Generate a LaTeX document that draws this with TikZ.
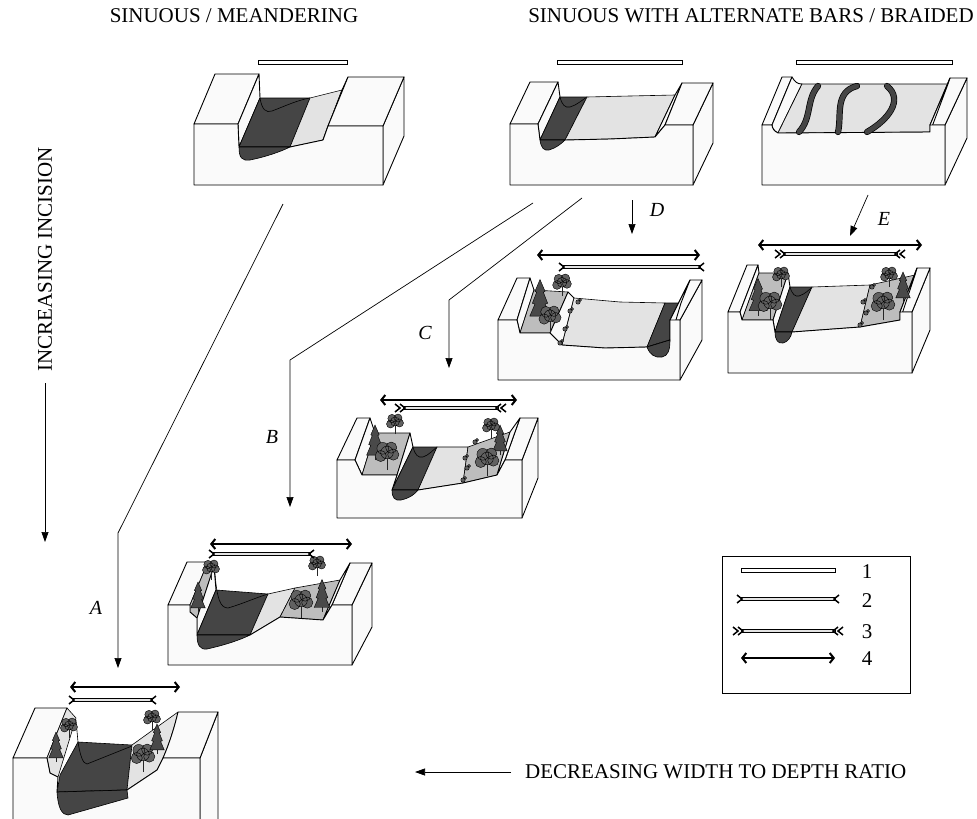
\documentclass[tikz,border=0pt]{standalone}
\usepackage{fontspec}
\setmainfont{Liberation Serif}
\usetikzlibrary{arrows.meta}
\definecolor{facewhite}{gray}{0.98}
\definecolor{plaingray}{gray}{0.89}
\definecolor{terracegray}{gray}{0.74}
\definecolor{waterdark}{gray}{0.27}
\definecolor{treegray}{gray}{0.38}
\tikzset{
  face/.style={draw, fill=facewhite, line width=0.9pt, line join=round},
  plain/.style={draw, fill=plaingray, line width=0.6pt, line join=round},
  terrace/.style={draw, fill=terracegray, line width=0.6pt, line join=round},
  water/.style={draw, fill=waterdark, line width=0.6pt, line join=round},
  braid/.style={line width=4.8pt, draw=waterdark, line cap=round,
    preaction={draw=black, line width=6.2pt, line cap=round}},
  crown/.style={draw=black, fill=treegray, line width=0.4pt},
  trunk/.style={line width=1pt, draw=black!85},
  tailln/.style={line width=1.5pt, line join=miter},
  conn/.style={line width=0.7pt},
  connarrow/.style={conn, -{Triangle[length=10pt,width=7pt]}},
  heading/.style={font=\fontsize{21}{21}\selectfont, inner sep=0pt},
  lbl/.style={font=\fontsize{20}{20}\selectfont\itshape, inner sep=0pt},
  legnum/.style={font=\fontsize{21}{21}\selectfont, inner sep=0pt},
}
% width bars of the legend: #1 = left x, #2 = right x, #3 = y
\newcommand{\barone}[3]{\filldraw[fill=white, line width=0.7pt] (#1,#3-2) rectangle (#2,#3+2);}
\newcommand{\bartwo}[3]{%
  \filldraw[fill=plaingray, line width=0.7pt] (#1,#3-1.8) rectangle (#2,#3+1.8);
  \draw[tailln] (#1-4,#3-4) -- (#1+1,#3) -- (#1-4,#3+4)
                (#2+4,#3-4) -- (#2-1,#3) -- (#2+4,#3+4);}
\newcommand{\barthree}[3]{%
  \filldraw[fill=plaingray, line width=0.7pt] (#1,#3-1.8) rectangle (#2,#3+1.8);
  \draw[tailln] (#1-3,#3-4) -- (#1+2,#3) -- (#1-3,#3+4)
                (#1-8,#3-4) -- (#1-3,#3) -- (#1-8,#3+4)
                (#2+3,#3-4) -- (#2-2,#3) -- (#2+3,#3+4)
                (#2+8,#3-4) -- (#2+3,#3) -- (#2+8,#3+4);}
\newcommand{\barfour}[3]{\draw[line width=2pt,
  {Straight Barb[length=4pt,width=10pt]}-{Straight Barb[length=4pt,width=10pt]}] (#1,#3) -- (#2,#3);}
% vegetation: #1 = x, #2 = base y, #3 = size
\newcommand{\leaftree}[3]{%
  \draw[trunk] (#1,#2) -- (#1,#2-1.1*#3);
  \filldraw[crown] (#1-0.45*#3,#2-1.0*#3) circle ({0.4*#3pt})
                   (#1+0.45*#3,#2-1.1*#3) circle ({0.4*#3pt})
                   (#1-0.3*#3,#2-1.55*#3) circle ({0.42*#3pt})
                   (#1+0.3*#3,#2-1.6*#3) circle ({0.4*#3pt})
                   (#1,#2-1.25*#3) circle ({0.45*#3pt});}
\newcommand{\pinetree}[3]{%
  \draw[trunk] (#1,#2) -- (#1,#2-0.5*#3);
  \filldraw[crown, fill=treegray!75!black] (#1,#2-2.5*#3) -- (#1+0.3*#3,#2-1.8*#3)
     -- (#1+0.2*#3,#2-1.75*#3) -- (#1+0.45*#3,#2-1.1*#3) -- (#1+0.3*#3,#2-1.05*#3)
     -- (#1+0.6*#3,#2-0.35*#3) -- (#1-0.6*#3,#2-0.35*#3) -- (#1-0.3*#3,#2-1.05*#3)
     -- (#1-0.45*#3,#2-1.1*#3) -- (#1-0.2*#3,#2-1.75*#3) -- (#1-0.3*#3,#2-1.8*#3) -- cycle;}
\newcommand{\shrub}[2]{\filldraw[crown] (#1,#2) circle (2.2pt) (#1+2,#2-2) circle (1.6pt);}

\begin{document}
\begin{tikzpicture}[x=1pt,y=-1pt]
  \useasboundingbox (0,0) rectangle (977,819);
  \clip (0,0) rectangle (977,819);

  % headings and axes
  \node[heading] (meander) at (234,16) {SINUOUS / MEANDERING};
  \node[heading] (braided) at (751,16) {SINUOUS WITH ALTERNATE BARS / BRAIDED};
  \node[heading, rotate=90, anchor=west] (incision) at (45,372) {INCREASING INCISION};
  \coordinate (incTop) at (45,383);
  \coordinate (incEnd) at (45,542);
  \draw[connarrow] (incTop) -- (incEnd);
  \node[heading, anchor=west] (ratio) at (525,772) {DECREASING WIDTH TO DEPTH RATIO};
  \coordinate (ratioEnd) at (415,772);
  \draw[connarrow] (ratio.west) ++(-14,0) coordinate (ratioStart) (ratioStart) -- (ratioEnd);

  % ---- top row: meandering block
  \filldraw[face] (383,126) -- (404,77) -- (404,136) -- (383,185) -- cycle;
  \filldraw[face] (194,124) -- (215,74) -- (259,74) -- (238,124) -- cycle;
  \filldraw[face] (259,74) -- (238,124) -- (239,147) -- (260,98) -- cycle;
  \filldraw[water] (260,98) -- (310,98) -- (290,147) -- (239,147) -- cycle;
  \draw[line width=0.6pt] (260,98) .. controls (262,110) and (266,113) .. (272,111)
    .. controls (285,106) and (298,100) .. (310,98);
  \filldraw[plain] (310,98) -- (342,90) -- (323,140) -- (290,147) -- cycle;
  \filldraw[face] (342,90) -- (348,77) -- (328,126) -- (323,140) -- cycle;
  \filldraw[face] (348,77) -- (404,77) -- (383,126) -- (328,126) -- cycle;
  \filldraw[face] (194,124) -- (238,124) -- (239,147) -- (290,147) -- (323,140)
    -- (328,126) -- (383,126) -- (383,185) -- (194,185) -- cycle;
  \filldraw[water] (239,147) .. controls (239,158) and (242,161) .. (250,160)
    .. controls (265,157) and (280,152) .. (290,147) -- cycle;
  \barone{258}{347}{62}

  % ---- top row: alternate bars block
  \filldraw[face] (693,125) -- (713,83) -- (713,143) -- (693,185) -- cycle;
  \filldraw[face] (510,124) -- (530,82) -- (558,82) -- (538,124) -- cycle;
  \filldraw[face] (558,82) -- (538,124) -- (540,140) -- (560,97) -- cycle;
  \filldraw[water] (560,97) -- (587,97) -- (565,140) -- (540,140) -- cycle;
  \draw[line width=0.6pt] (560,97) .. controls (562,105) and (565,108) .. (570,107)
    .. controls (577,105) and (582,100) .. (587,97);
  \filldraw[plain] (587,97) -- (630,96) -- (675,95) -- (655,137) -- (610,139) -- (565,140) -- cycle;
  \filldraw[face] (682,83) -- (675,95) -- (655,137) -- (665,125) -- cycle;
  \filldraw[face] (682,83) -- (713,83) -- (693,125) -- (665,125) -- cycle;
  \filldraw[face] (510,124) -- (538,124) -- (540,140) -- (565,140) -- (610,139) -- (655,137)
    -- (665,125) -- (693,125) -- (693,185) -- (510,185) -- cycle;
  \filldraw[water] (540,140) .. controls (541,148) and (544,151) .. (549,150)
    .. controls (556,148) and (561,144) .. (565,140) -- cycle;
  \barone{557}{682}{62}

  % ---- top row: braided block
  \filldraw[face] (945,125) -- (967,78) -- (967,138) -- (945,185) -- cycle;
  \filldraw[face] (762,125) -- (782,77) -- (792,77) -- (772,125) -- cycle;
  \filldraw[face] (792,77) .. controls (795,82) and (797,84) .. (802,84) -- (778,133)
    .. controls (774,131) and (772,128) .. (772,125) -- cycle;
  \filldraw[plain] (802,84) -- (948,84) -- (930,132) -- (778,133) -- cycle;
  \filldraw[face] (950,78) -- (967,78) -- (945,125) -- (930,125) -- cycle;
  \filldraw[face] (950,78) -- (930,125) -- (930,132) -- (948,84) -- cycle;
  \filldraw[face] (762,125) -- (772,125) .. controls (772,128) and (774,131) .. (778,133)
    -- (930,132) -- (930,125) -- (945,125) -- (945,185) -- (762,185) -- cycle;
  \draw[braid] (818,86) .. controls (806,100) and (812,118) .. (799,132);
  \draw[braid] (857,86) .. controls (834,92) and (842,116) .. (838,132);
  \draw[braid] (887,86) .. controls (904,100) and (888,120) .. (867,132);
  \barone{796}{952}{62}

  % ---- second row: block D
  \filldraw[face] (680,320) -- (702,280) -- (702,340) -- (680,380) -- cycle;
  \filldraw[face] (498,320) -- (517,278) -- (530,278) -- (517,320) -- cycle;
  \filldraw[face] (530,278) -- (517,320) -- (520,333) -- (534,290) -- cycle;
  \filldraw[terrace] (534,290) -- (568,292) -- (550,333) -- (520,333) -- cycle;
  \filldraw[face] (568,292) -- (574,298) -- (562,345) -- (550,333) -- cycle;
  \filldraw[plain] (574,298) -- (620,302) -- (665,303) -- (647,347) -- (605,348) -- (562,345) -- cycle;
  \filldraw[water] (665,303) -- (681,303) -- (670,340) -- (647,347) -- cycle;
  \filldraw[face] (690,280) -- (702,280) -- (680,320) -- (670,320) -- cycle;
  \filldraw[face] (690,280) -- (670,320) -- (670,340) -- (681,303) -- cycle;
  \filldraw[face] (498,320) -- (517,320) -- (520,333) -- (550,333) -- (562,345) -- (605,348)
    -- (647,347) -- (670,340) -- (670,320) -- (680,320) -- (680,380) -- (498,380) -- cycle;
  \filldraw[water] (647,347) .. controls (650,355) and (655,358) .. (662,357)
    .. controls (668,356) and (670,350) .. (670,340) -- cycle;
  \pinetree{540}{322}{17}
  \leaftree{562}{296}{11}
  \leaftree{550}{332}{13}
  \shrub{570}{311} \shrub{578}{302} \shrub{565}{329} \shrub{560}{343}
  \barfour{537}{700}{255}
  \bartwo{563}{700}{267}

  % ---- second row: block E
  \filldraw[face] (912,312) -- (930,268) -- (930,330) -- (912,373) -- cycle;
  \filldraw[face] (728,312) -- (747,265) -- (758,265) -- (740,312) -- cycle;
  \filldraw[face] (758,265) -- (740,312) -- (742,320) -- (759,273) -- cycle;
  \filldraw[terrace] (759,273) -- (788,273) -- (773,320) -- (742,320) -- cycle;
  \filldraw[face] (788,273) -- (790,287) -- (775,332) -- (773,320) -- cycle;
  \filldraw[water] (790,287) -- (812,287) -- (792,332) -- (775,332) -- cycle;
  \draw[line width=0.6pt] (790,287) .. controls (792,294) and (795,297) .. (799,296)
    .. controls (805,294) and (809,290) .. (812,287);
  \filldraw[plain] (812,287) -- (870,285) -- (860,327) -- (792,332) -- cycle;
  \filldraw[terrace] (870,285) -- (915,275) -- (900,320) -- (860,327) -- cycle;
  \filldraw[face] (917,268) -- (930,268) -- (912,312) -- (900,312) -- cycle;
  \filldraw[face] (917,268) -- (900,312) -- (900,320) -- (915,275) -- cycle;
  \filldraw[face] (728,312) -- (740,312) -- (742,320) -- (773,320) -- (775,332) -- (792,332)
    -- (860,327) -- (900,320) -- (900,312) -- (912,312) -- (912,373) -- (728,373) -- cycle;
  \filldraw[water] (775,332) .. controls (775,340) and (778,344) .. (783,343)
    .. controls (788,342) and (791,337) .. (792,332) -- cycle;
  \pinetree{758}{316}{15}
  \leaftree{781}{287}{10}
  \leaftree{770}{320}{14}
  \pinetree{903}{302}{12}
  \leaftree{889}{287}{10}
  \leaftree{883}{320}{14}
  \shrub{872}{287} \shrub{863}{302} \shrub{866}{313} \shrub{860}{325}
  \barfour{758}{922}{245}
  \barthree{783}{897}{254}

  % ---- third row: block C
  \filldraw[face] (522,460) -- (538,418) -- (538,478) -- (522,518) -- cycle;
  \filldraw[face] (337,460) -- (357,418) -- (370,418) -- (355,460) -- cycle;
  \filldraw[face] (370,418) -- (355,460) -- (362,475) -- (375,433) -- cycle;
  \filldraw[terrace] (375,433) -- (410,433) -- (397,475) -- (362,475) -- cycle;
  \filldraw[face] (410,433) -- (413,447) -- (392,490) -- (397,475) -- cycle;
  \filldraw[water] (413,447) -- (437,447) -- (418,490) -- (392,490) -- cycle;
  \draw[line width=0.6pt] (413,447) .. controls (415,455) and (418,458) .. (423,457)
    .. controls (429,455) and (433,450) .. (437,447);
  \filldraw[plain] (437,447) -- (468,447) -- (463,483) -- (418,490) -- cycle;
  \filldraw[terrace] (468,447) -- (510,432) -- (497,475) -- (463,483) -- cycle;
  \filldraw[face] (520,418) -- (538,418) -- (522,460) -- (505,460) -- cycle;
  \filldraw[face] (520,418) -- (505,460) -- (497,475) -- (510,432) -- cycle;
  \filldraw[face] (337,460) -- (355,460) -- (362,475) -- (397,475) -- (392,490) -- (418,490)
    -- (463,483) -- (497,475) -- (505,460) -- (522,460) -- (522,518) -- (337,518) -- cycle;
  \filldraw[water] (392,490) .. controls (392,498) and (395,501) .. (401,500)
    .. controls (410,498) and (415,494) .. (418,490) -- cycle;
  \pinetree{375}{460}{14}
  \leaftree{395}{434}{10}
  \leaftree{387}{470}{14}
  \pinetree{500}{455}{12}
  \leaftree{491}{438}{10}
  \leaftree{487}{476}{14}
  \shrub{475}{442} \shrub{465}{458} \shrub{467}{468} \shrub{463}{480}
  \barfour{380}{517}{400}
  \barthree{403}{498}{408}

  % ---- fourth row: block B
  \filldraw[face] (352,605) -- (372,563) -- (372,627) -- (352,665) -- cycle;
  \filldraw[face] (168,605) -- (187,562) -- (208,562) -- (190,605) -- cycle;
  \filldraw[terrace] (208,562) -- (214,566) -- (197,618) -- (190,612) -- (190,605) -- cycle;
  \filldraw[face] (214,566) -- (197,618) -- (197,635) -- (216,590) -- cycle;
  \filldraw[water] (216,590) -- (268,594) -- (250,635) -- (197,635) -- cycle;
  \draw[line width=0.6pt] (215,574) .. controls (217,598) and (220,608) .. (228,608)
    .. controls (242,604) and (255,598) .. (268,594);
  \filldraw[plain] (268,594) -- (295,588) -- (280,617) -- (250,635) -- cycle;
  \filldraw[terrace] (295,588) -- (340,580) -- (323,620) -- (280,617) -- cycle;
  \filldraw[face] (350,563) -- (372,563) -- (352,605) -- (332,605) -- cycle;
  \filldraw[face] (350,563) -- (332,605) -- (323,620) -- (340,580) -- cycle;
  \filldraw[face] (168,605) -- (190,605) -- (190,612) -- (197,618) -- (197,635) -- (250,635)
    -- (280,617) -- (323,620) -- (332,605) -- (352,605) -- (352,665) -- (168,665) -- cycle;
  \filldraw[water] (197,635) .. controls (197,645) and (200,650) .. (207,649)
    .. controls (225,645) and (240,640) .. (250,635) -- cycle;
  \leaftree{211}{580}{10}
  \pinetree{198}{612}{12}
  \leaftree{317}{576}{10}
  \leaftree{301}{618}{14}
  \pinetree{322}{612}{13}
  \barfour{210}{352}{544}
  \bartwo{213}{310}{554}

  % ---- fifth row: block A
  \filldraw[face] (200,758) -- (218,712) -- (218,830) -- (200,830) -- cycle;
  \filldraw[face] (13,758) -- (35,708) -- (67,708) -- (47,758) -- cycle;
  \filldraw[plain] (67,708) -- (76,718) -- (58,777) -- (50,773) -- (47,758) -- cycle;
  \filldraw[water] (78,742) -- (132,745) -- (127,790) -- (57,792) -- (60,775) -- cycle;
  \draw[line width=0.6pt] (76,720) -- (78,742) .. controls (80,755) and (83,764) .. (87,764) -- (132,746);
  \filldraw[plain] (132,745) -- (178,712) .. controls (175,725) and (170,742) .. (163,758)
    -- (157,770) -- (127,790) -- cycle;
  \filldraw[face] (178,712) -- (218,712) -- (200,758) -- (163,758)
    .. controls (170,742) and (175,725) .. (178,712) -- cycle;
  \filldraw[face] (13,758) -- (47,758) -- (50,773) -- (58,777) -- (57,792) -- (127,790)
    -- (157,770) -- (163,758) -- (200,758) -- (200,830) -- (13,830) -- cycle;
  \filldraw[water] (57,792) .. controls (58,808) and (62,815) .. (68,815) -- (128,798) -- (127,790) -- cycle;
  \leaftree{69}{738}{10}
  \pinetree{56}{762}{12}
  \leaftree{152}{730}{10}
  \leaftree{143}{772}{14}
  \pinetree{157}{754}{12}
  \barfour{70}{180}{687}
  \bartwo{73}{152}{700}

  % ---- evolution paths
  \coordinate (srcA) at (283,204);
  \coordinate (bendA) at (118,533);
  \coordinate (tipA) at (118,668);
  \draw[connarrow] (srcA) -- (bendA) -- (tipA);
  \node[lbl] (labA) at (96,608) {A};
  \coordinate (srcB) at (533,203);
  \coordinate (bendB) at (290,360);
  \coordinate (tipB) at (290,507);
  \draw[connarrow] (srcB) -- (bendB) -- (tipB);
  \node[lbl] (labB) at (272,437) {B};
  \coordinate (srcC) at (582,198);
  \coordinate (bendC) at (449,300);
  \coordinate (tipC) at (449,368);
  \draw[connarrow] (srcC) -- (bendC) -- (tipC);
  \node[lbl] (labC) at (425,333) {C};
  \coordinate (srcD) at (632,200);
  \coordinate (tipD) at (632,234);
  \draw[connarrow] (srcD) -- (tipD);
  \node[lbl] (labD) at (657,210) {D};
  \coordinate (srcE) at (868,195);
  \coordinate (tipE) at (850,236);
  \draw[connarrow] (srcE) -- (tipE);
  \node[lbl] (labE) at (884,219) {E};

  % ---- legend
  \draw[line width=0.7pt] (722,556) rectangle (910,693);
  \barone{741}{835}{570}
  \bartwo{741}{835}{599}
  \barthree{741}{835}{631}
  \barfour{741}{835}{658}
  \node[legnum] (one) at (867,572) {1};
  \node[legnum] (two) at (867,601) {2};
  \node[legnum] (three) at (867,632) {3};
  \node[legnum] (four) at (867,659) {4};
\end{tikzpicture}
\end{document}
